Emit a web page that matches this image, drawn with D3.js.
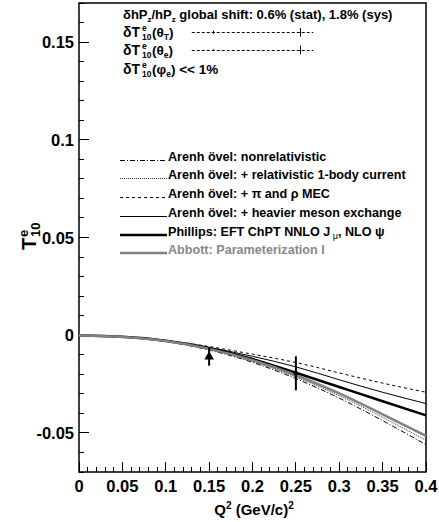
<!DOCTYPE html>
<html>
<head>
<meta charset="utf-8">
<script src="https://cdn.jsdelivr.net/npm/d3@7"></script>
<style>
  body { margin: 0; background: #fff; }
  text { font-family: "Liberation Sans", Arial, Helvetica, sans-serif; font-weight: bold; }
</style>
</head>
<body>
<svg id="chart" width="439" height="522"></svg>
<script>
// theory curves, sampled every 0.05 in Q^2
const q2Grid = [0, 0.05, 0.1, 0.15, 0.2, 0.25, 0.3, 0.35, 0.4];
const nonRel     = [0, -0.0010, -0.0033, -0.0076, -0.0139, -0.0222, -0.0322, -0.0437, -0.0560];
const relOneBody = [0, -0.0009, -0.0031, -0.0073, -0.0134, -0.0214, -0.0310, -0.0420, -0.0538];
const piRhoMec   = [0, -0.0008, -0.0026, -0.0058, -0.0097, -0.0140, -0.0193, -0.0245, -0.0292];
const heavyMeson = [0, -0.0008, -0.0027, -0.0062, -0.0108, -0.0162, -0.0228, -0.0292, -0.0350];
const phillips   = [0, -0.0008, -0.0028, -0.0066, -0.0122, -0.0192, -0.0265, -0.0338, -0.0410];
const abbott     = [0, -0.0009, -0.0030, -0.0070, -0.0128, -0.0205, -0.0298, -0.0405, -0.0515];

// measured points
const dataQ2  = [0.15, 0.25];
const dataT   = [-0.0110, -0.0195];
const dataErr = [0.0046, 0.0087];

// systematic-error rows in the header (drawn at fixed T levels of the frame)
const sysRowT   = [0.155, 0.146];
const sysErr    = [[0.0008, 0.0022], [0.0004, 0.0022]];
const sysSpan   = [0.13, 0.27];

const xTicks = [0, 0.05, 0.1, 0.15, 0.2, 0.25, 0.3, 0.35, 0.4];
const yTicks = [-0.05, 0, 0.05, 0.1, 0.15];

const legendLabels = [
  'Arenh övel: nonrelativistic',
  'Arenh övel: + relativistic 1-body current',
  'Arenh övel: + π and ρ MEC',
  'Arenh övel: + heavier meson exchange',
  'Phillips: EFT ChPT NNLO J',
  'Abbott: Parameterization I'
];

const svg = d3.select('#chart');
const fLeft = 79, fRight = 426, fTop = 3, fBottom = 472;

const x = d3.scaleLinear().domain([0, 0.4]).range([fLeft, fRight]);
const y = d3.scaleLinear().domain([-0.07, 0.17]).range([fBottom, fTop]);
const fmt = d => d3.format('~g')(d).replace('−', '-');

const styles = [
  { values: nonRel,     stroke: '#000', width: 1,   dash: '5,2,1,2' },
  { values: relOneBody, stroke: '#333', width: 1,   dash: '1,1' },
  { values: piRhoMec,   stroke: '#000', width: 1,   dash: '3,3' },
  { values: heavyMeson, stroke: '#000', width: 1,   dash: null },
  { values: phillips,   stroke: '#000', width: 2.5, dash: null },
  { values: abbott,     stroke: '#808080', width: 2.5, dash: null }
];

// minor ticks
const xMinor = d3.range(0, 0.4001, 0.01);
const yMinor = d3.range(-0.07, 0.1701, 0.01);

svg.append('g').attr('shape-rendering', 'crispEdges')
  .selectAll('line').data(xMinor).join('line')
  .attr('x1', d => x(d)).attr('x2', d => x(d))
  .attr('y1', fBottom).attr('y2', d => fBottom - (Math.abs(Math.round(d * 100) % 5) === 0 ? 10 : 5))
  .attr('stroke', '#000').attr('stroke-width', 1);

svg.append('g').attr('shape-rendering', 'crispEdges')
  .selectAll('line').data(yMinor).join('line')
  .attr('x1', fLeft).attr('x2', d => fLeft + (Math.abs(Math.round(d * 100) % 5) === 0 ? 10 : 5))
  .attr('y1', d => y(d)).attr('y2', d => y(d))
  .attr('stroke', '#000').attr('stroke-width', 1);

// frame
svg.append('rect')
  .attr('x', fLeft).attr('y', fTop)
  .attr('width', fRight - fLeft).attr('height', fBottom - fTop)
  .attr('fill', 'none').attr('stroke', '#000').attr('stroke-width', 1.5);

// tick labels
svg.append('g').selectAll('text').data(xTicks).join('text')
  .attr('x', d => x(d)).attr('y', 492)
  .attr('text-anchor', 'middle').attr('font-size', 16.5)
  .text(fmt);

svg.append('g').selectAll('text').data(yTicks).join('text')
  .attr('x', 74).attr('y', d => y(d) + 6)
  .attr('text-anchor', 'end').attr('font-size', 16.5)
  .text(fmt);

// axis titles
const xt = svg.append('text').attr('x', 254).attr('y', 515)
  .attr('text-anchor', 'middle').attr('font-size', 15);
xt.append('tspan').text('Q');
xt.append('tspan').attr('dy', -6).attr('font-size', 10).text('2');
xt.append('tspan').attr('dy', 6).text(' (GeV/c)');
xt.append('tspan').attr('dy', -6).attr('font-size', 10).text('2');

const yt = svg.append('g').attr('transform', 'translate(36,250) rotate(-90)');
yt.append('text').attr('x', 0).attr('y', 0).attr('font-size', 20).text('T');
yt.append('text').attr('x', 13).attr('y', -8).attr('font-size', 13).text('e');
yt.append('text').attr('x', 13).attr('y', 4).attr('font-size', 13).text('10');

// theory curves
const line = d3.line()
  .x((d, i) => x(q2Grid[i]))
  .y(d => y(d))
  .curve(d3.curveNatural);

svg.append('g').selectAll('path').data(styles).join('path')
  .attr('d', d => line(d.values))
  .attr('fill', 'none')
  .attr('stroke', d => d.stroke)
  .attr('stroke-width', d => d.width)
  .attr('stroke-dasharray', d => d.dash);

// data points
const pts = svg.append('g');
dataQ2.forEach((q, i) => {
  pts.append('line')
    .attr('x1', x(q)).attr('x2', x(q))
    .attr('y1', y(dataT[i] + dataErr[i])).attr('y2', y(dataT[i] - dataErr[i]))
    .attr('stroke', '#000').attr('stroke-width', 2);
});
pts.append('path')
  .attr('transform', `translate(${x(dataQ2[0])},${y(dataT[0])})`)
  .attr('d', d3.symbol(d3.symbolTriangle, 40)())
  .attr('fill', '#000');
pts.append('circle')
  .attr('cx', x(dataQ2[1])).attr('cy', y(dataT[1])).attr('r', 2.2)
  .attr('fill', '#000');

// header text
const h = svg.append('g');
const h1 = h.append('text').attr('x', 123).attr('y', 19).attr('font-size', 13);
h1.append('tspan').text('δhP');
h1.append('tspan').attr('dy', 3).attr('font-size', 8).text('z');
h1.append('tspan').attr('dy', -3).text('/hP');
h1.append('tspan').attr('dy', 3).attr('font-size', 8).text('z');
h1.append('tspan').attr('dy', -3).text(' global shift: 0.6% (stat), 1.8% (sys)');

const rowLabels = [['T', ')'], ['e', ')'], ['e', ') << 1%']];
const rowAngles = ['θ', 'θ', 'φ'];
const rowY = [37, 55, 74];
rowLabels.forEach((r, i) => {
  const g = h.append('g').attr('transform', `translate(123,${rowY[i]})`);
  g.append('text').attr('font-size', 14).text('δT');
  g.append('text').attr('x', 19).attr('y', -6).attr('font-size', 8.5).text('e');
  g.append('text').attr('x', 19).attr('y', 3).attr('font-size', 8.5).text('10');
  const t = g.append('text').attr('x', 29).attr('font-size', 13.5);
  t.append('tspan').text('(' + rowAngles[i]);
  t.append('tspan').attr('dy', 3).attr('font-size', 8.5).text(r[0]);
  t.append('tspan').attr('dy', -3).text(r[1]);
});

// systematic rows
sysRowT.forEach((t, i) => {
  svg.append('line')
    .attr('x1', x(sysSpan[0])).attr('x2', x(sysSpan[1]))
    .attr('y1', Math.round(y(t)) + 0.5).attr('y2', Math.round(y(t)) + 0.5)
    .attr('stroke', '#000').attr('stroke-width', 1).attr('stroke-dasharray', '3,2');
  dataQ2.forEach((q, j) => {
    svg.append('line')
      .attr('x1', Math.round(x(q)) + 4.5).attr('x2', Math.round(x(q)) + 4.5)
      .attr('y1', y(t + sysErr[i][j])).attr('y2', y(t - sysErr[i][j]))
      .attr('stroke', '#000').attr('stroke-width', 1);
  });
});

// legend
const lg = svg.append('g');
const legY = [157, 175, 194, 213, 232, 250];
styles.forEach((s, i) => {
  const ly = Math.round(legY[i] + 3) + (s.width === 1 ? 0.5 : 0);
  lg.append('line')
    .attr('x1', 120).attr('x2', 167)
    .attr('y1', ly).attr('y2', ly)
    .attr('stroke', s.stroke)
    .attr('stroke-width', s.width)
    .attr('stroke-dasharray', s.dash);
  const t = lg.append('text')
    .attr('x', 168).attr('y', legY[i] + 4)
    .attr('font-size', 12.6)
    .attr('fill', i === 5 ? '#888' : '#000')
    .text(legendLabels[i]);
  if (i === 4) {
    t.append('tspan').attr('dy', 3).attr('font-size', 9).attr('font-weight', 'normal').text(' μ');
    t.append('tspan').attr('dy', -3).text(', NLO ψ');
  }
});
</script>
</body>
</html>
